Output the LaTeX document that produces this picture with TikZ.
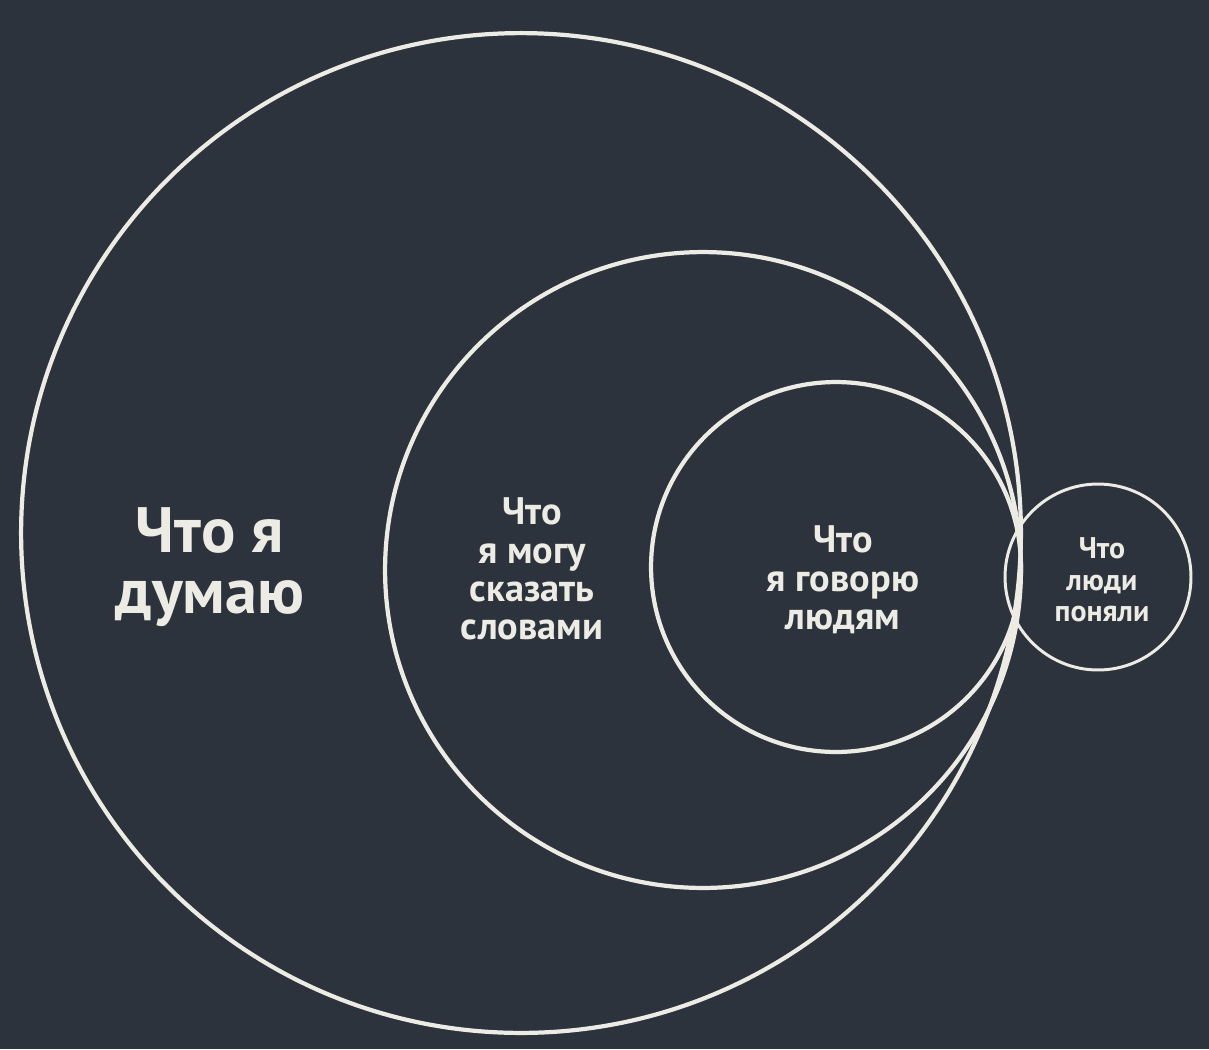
\documentclass[tikz,border=0pt]{standalone}
\usepackage{fontspec}
\setmainfont{PT Sans}
\definecolor{slate}{RGB}{44,51,60}
\definecolor{chalk}{RGB}{236,235,228}

\begin{document}
\begin{tikzpicture}[x=0.02cm,y=-0.02cm,
                    ring/.style={circle,draw=chalk,line width=2.4pt,inner sep=0pt},
                    words/.style={text=chalk,align=center,inner sep=0pt,font=\bfseries}]
  \fill[slate] (0,0) rectangle (1209,1049);

  \node[ring,minimum size=20cm] (think) at (521,533) {};
  \node[ring,minimum size=12.72cm] (say) at (703,570) {};
  \node[ring,minimum size=7.4cm] (tell) at (836,567) {};
  \node[ring,line width=1.7pt,minimum size=3.72cm] (heard) at (1098,577) {};

  \node[words,font=\bfseries\fontsize{36.5pt}{34.5pt}\selectfont] (think text) at (210,567) {Что я\\думаю};
  \node[words,font=\bfseries\fontsize{21.8pt}{21.8pt}\selectfont] (say text) at (532,569) {Что\\я могу\\сказать\\словами};
  \node[words,font=\bfseries\fontsize{21.8pt}{21.8pt}\selectfont] (tell text) at (843,580) {Что\\я говорю\\людям};
  \node[words,font=\bfseries\fontsize{17pt}{17.9pt}\selectfont] (heard text) at (1102,580) {Что\\люди\\поняли};
\end{tikzpicture}
\end{document}
